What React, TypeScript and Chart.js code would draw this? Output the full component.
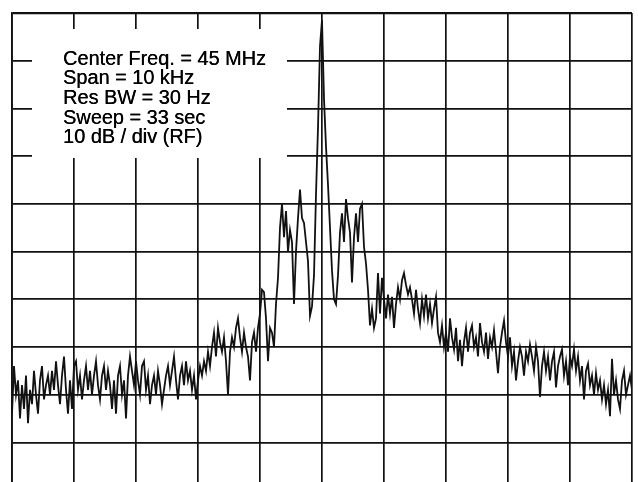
import React, { useEffect, useRef } from "react";
import { Chart, registerables } from "chart.js";

Chart.register(...registerables);

// Sweep: center 45 MHz, span 10 kHz -> offsets from -5 kHz to +5 kHz
const SPAN_KHZ = 10;
const X_TICKS_KHZ = [-5, -4, -3, -2, -1, 0, 1, 2, 3, 4, 5];
const Y_TICKS_DB = [0, -10, -20, -30, -40, -50, -60, -70, -80, -90];
const Y_MIN_DB = -98.3;
const Y_MAX_DB = 0;

const ANNOTATION_LINES = [
  "Center Freq. = 45 MHz",
  "Span = 10 kHz",
  "Res BW = 30 Hz",
  "Sweep = 33 sec",
  "10 dB / div (RF)",
];

// Trace level (dB re. reference) read from the sweep, 311 equally spaced points
const LEVELS_DB = [
  -84, -74, -80, -77, -85, -78, -83, -76, -86, -79,
  -82, -75, -80, -84, -77, -74, -81, -78, -76, -80,
  -75, -79, -73, -78, -82, -76, -72, -79, -84, -77,
  -83, -74, -73, -79, -76, -81, -77, -74, -79, -75,
  -80, -76, -73, -78, -81, -76, -74, -79, -75, -78,
  -83, -77, -84, -76, -74, -80, -77, -85, -76, -72,
  -75, -78, -73, -77, -80, -74, -73, -79, -76, -82,
  -78, -76, -80, -75, -78, -82, -79, -76, -74, -78,
  -75, -72, -77, -81, -76, -74, -78, -73, -77, -75,
  -79, -76, -81, -77, -74,
  -76, -73, -75, -71, -74,
  -70, -67, -72, -66, -69, -71, -68, -73, -80, -71,
  -68, -70, -66, -64, -68, -71, -67, -70, -72, -77,
  -69, -67, -71, -66, -63,
  -58, -58.5, -64, -73, -66,
  -67, -70, -61, -55.5, -45, -40, -47, -41.5, -50, -45.5,
  -48, -61, -50, -43, -37, -43, -44, -48, -52, -63.5,
  -61.5, -55, -38, -24, -7, -1.5,
  -18, -28, -36, -45,
  -54, -60, -61, -55, -46, -42, -48, -39, -43, -46,
  -56.5, -47, -42, -48, -41, -40, -49, -52.5, -58, -65.5,
  -62, -66, -64, -54.5, -63, -55.5, -60, -64, -59, -63,
  -59.5, -66, -61, -57.5, -60, -56, -54.5, -57, -59, -57.5,
  -60,
  -63, -58, -62, -65, -60, -63.5, -59, -64, -61,
  -65, -62, -59.5, -67, -69, -65.5, -70, -67, -71, -64,
  -68, -70.5, -66, -73, -68.5, -74, -69, -66, -71, -67,
  -65.5, -70, -68, -72, -65, -69, -71, -67, -72.5, -68,
  -70, -66.5, -71, -75.5, -70, -67,
  -64.5, -69, -72, -68,
  -74, -71, -77, -73, -70, -72, -76, -71, -73, -69.5,
  -72, -75, -70, -73, -80.5, -74, -71, -75, -72, -77,
  -73, -71, -78.5, -74, -72, -70.5, -76, -73, -78, -72,
  -74, -70.5, -75, -72, -77, -74, -81, -75, -73.5, -78,
  -76, -80, -75.5, -79, -77, -81, -78, -82, -79, -84.5,
  -72.5, -80, -77, -81, -83, -77, -75, -80, -78, -76,
  -79,
];

const INK = "#111111";

const annotationPlugin = {
  id: "annotationBox",
  beforeDatasetsDraw(chart: any) {
    const { ctx, chartArea } = chart;
    const left = chartArea.left + 20;
    const top = chartArea.top + 16;
    ctx.save();
    ctx.fillStyle = "#ffffff";
    ctx.fillRect(left, top, 255, 129);
    ctx.fillStyle = "#000000";
    ctx.font = '19.9px "Liberation Sans", Arial, Helvetica, sans-serif';
    ctx.textBaseline = "alphabetic";
    ctx.textAlign = "left";
    ANNOTATION_LINES.forEach((line, k) => {
      const x = chartArea.left + 51;
      const y = chartArea.top + 51.5 + k * 19.7;
      ctx.fillText(line, x, y);
      ctx.fillText(line, x + 0.35, y);
    });
    ctx.restore();
  },
};

export default function App() {
  const canvasRef = useRef<HTMLCanvasElement | null>(null);

  useEffect(() => {
    if (!canvasRef.current) return;
    const n = LEVELS_DB.length;
    const points = LEVELS_DB.map((v, i) => ({
      x: -SPAN_KHZ / 2 + (SPAN_KHZ * i) / (n - 1),
      y: v,
    }));
    const chart = new Chart(canvasRef.current, {
      type: "line",
      data: {
        datasets: [
          {
            data: points,
            borderColor: INK,
            borderWidth: 1.8,
            pointRadius: 0,
            tension: 0,
            fill: false,
            borderJoinStyle: "miter",
          },
        ],
      },
      options: {
        responsive: false,
        animation: false,
        parsing: false,
        layout: { padding: { left: 12, right: 6, top: 13, bottom: 0 } },
        plugins: {
          legend: { display: false },
          tooltip: { enabled: false },
        },
        scales: {
          x: {
            type: "linear",
            min: -SPAN_KHZ / 2,
            max: SPAN_KHZ / 2,
            afterBuildTicks: (scale: any) => {
              scale.ticks = X_TICKS_KHZ.map((v) => ({ value: v }));
            },
            ticks: { display: false },
            grid: { color: INK, lineWidth: 1.7, drawTicks: false },
            border: { display: false },
          },
          y: {
            type: "linear",
            min: Y_MIN_DB,
            max: Y_MAX_DB,
            afterBuildTicks: (scale: any) => {
              scale.ticks = Y_TICKS_DB.map((v) => ({ value: v }));
            },
            ticks: { display: false },
            grid: {
              color: INK,
              lineWidth: (c: any) => (c.tick && c.tick.value === 0 ? 2.2 : 1.7),
              drawTicks: false,
            },
            border: { display: true, color: INK, width: 1.8 },
          },
        },
      },
      plugins: [annotationPlugin],
    });
    return () => chart.destroy();
  }, []);

  return (
    <div
      style={{
        position: "absolute",
        left: 0,
        top: 0,
        width: 638,
        height: 482,
        background: "#ffffff",
      }}
    >
      <canvas ref={canvasRef} width={638} height={482} />
    </div>
  );
}
